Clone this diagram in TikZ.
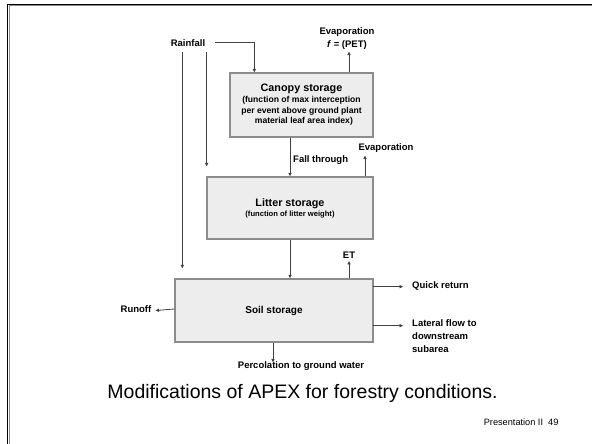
\documentclass[tikz,border=0pt]{standalone}
\usepackage{fontspec}
\setmainfont{Liberation Sans}
\usetikzlibrary{arrows.meta,calc}
\begin{document}
\begin{tikzpicture}[x=1pt,y=-1pt,
  store/.style={draw=black!45,line width=1.4pt,fill=black!7,inner sep=0pt,align=center},
  lbl/.style={inner sep=1pt,font=\fontsize{9.5}{13}\selectfont\bfseries},
  arr/.style={draw=black!75,line width=0.8pt,-{Triangle[length=3.5pt,width=3.2pt]}}]
\useasboundingbox (0,0) rectangle (592,444);
\fill[white] (0,0) rectangle (592,444);
% frame
\draw[black!45,line width=1pt] (9,444) -- (9,6) -- (592,6);
\draw[black,line width=1.8pt] (7.5,444) -- (7.5,4.5) -- (592,4.5);
% boxes
\node[store,minimum width=143pt,minimum height=64pt] (canopy) at (301.5,105)
  {{\fontsize{10.8}{13}\selectfont\bfseries Canopy storage}\\[-1pt]
   {\fontsize{8.6}{10.5}\selectfont\bfseries (function of max interception}\\[-1.5pt]
   {\fontsize{8.6}{10.5}\selectfont\bfseries per event above ground plant}\\[-1.5pt]
   {\fontsize{8.6}{10.5}\selectfont\bfseries \ \ material leaf area index)}};
\node[store,minimum width=166pt,minimum height=62pt] (litter) at (290,208)
  {{\fontsize{10.8}{13}\selectfont\bfseries Litter storage}\\[-2pt]
   {\fontsize{7.6}{9}\selectfont\bfseries (function of litter weight)}};
\node[store,minimum width=198pt,minimum height=63pt] (soil) at (274,310.5)
  {\fontsize{10}{12}\selectfont\bfseries Soil storage};
% labels
\node[lbl] (rain) at (188,43) {Rainfall};
\node[lbl,align=center] (evap1) at (347,38.5) {Evaporation\\\textit{f} = (PET)};
\node[lbl,anchor=west] (fall) at (292,160) {Fall through};
\node[lbl] (evap2) at (386,148) {Evaporation};
\node[lbl] (et) at (349,255) {ET};
\node[lbl] (runoff) at (136,309) {Runoff};
\node[lbl,anchor=west] (quick) at (411,286) {Quick return};
\node[lbl,anchor=north west,align=left] (lateral) at (411,318.5) {Lateral flow to\\downstream\\subarea};
\node[lbl] (perc) at (301,366.5) {Percolation to ground water};
\node[font=\fontsize{19.5}{23}\selectfont] (caption) at (302.5,393) {Modifications of APEX for forestry conditions.};
\node[font=\fontsize{9.2}{11}\selectfont,anchor=east] (pres) at (562,422.5) {Presentation II\ \ 49};
% coordinates
\coordinate (r0) at (215,42.7);
\coordinate (r1) at (182.3,52);
\coordinate (r2) at (206.7,52);
\coordinate (cx) at (254.3,0);
\coordinate (ex1) at (349,0);
\coordinate (ex2) at (365,0);
\coordinate (fx) at (290,0);
\coordinate (ox) at (273,0);
\coordinate (q1) at (373,286.7);
\coordinate (q2) at (403,286.7);
\coordinate (l1) at (373,325.7);
\coordinate (l2) at (403,325.7);
% connectors
\draw[arr] (r0) -| (canopy.north -| cx);
\draw[arr,shorten >=10pt] (r1) -- (r1 |- soil.north);
\draw[arr,shorten >=10pt] (r2) -- (r2 |- litter.north);
\draw[arr] (canopy.north -| ex1) -- ($(ex1 |- evap1.south)+(0,1)$);
\draw[arr] (canopy.south -| fx) -- (litter.north -| fx);
\draw[arr] (litter.north -| ex2) -- ($(ex2 |- evap2.south)+(0,2)$);
\draw[arr] (litter.south) -- (litter.south |- soil.north);
\draw[arr] (soil.north -| et) -- ($(et.south)+(0,1.5)$);
\draw[arr] (soil.west |- runoff) -- ($(runoff.east)+(3,1.5)$);
\draw[arr] (q1) -- (q2);
\draw[arr] (l1) -- (l2);
\draw[arr] (soil.south -| ox) -- ($(ox |- perc.north)+(0,1.5)$);
\end{tikzpicture}
\end{document}
